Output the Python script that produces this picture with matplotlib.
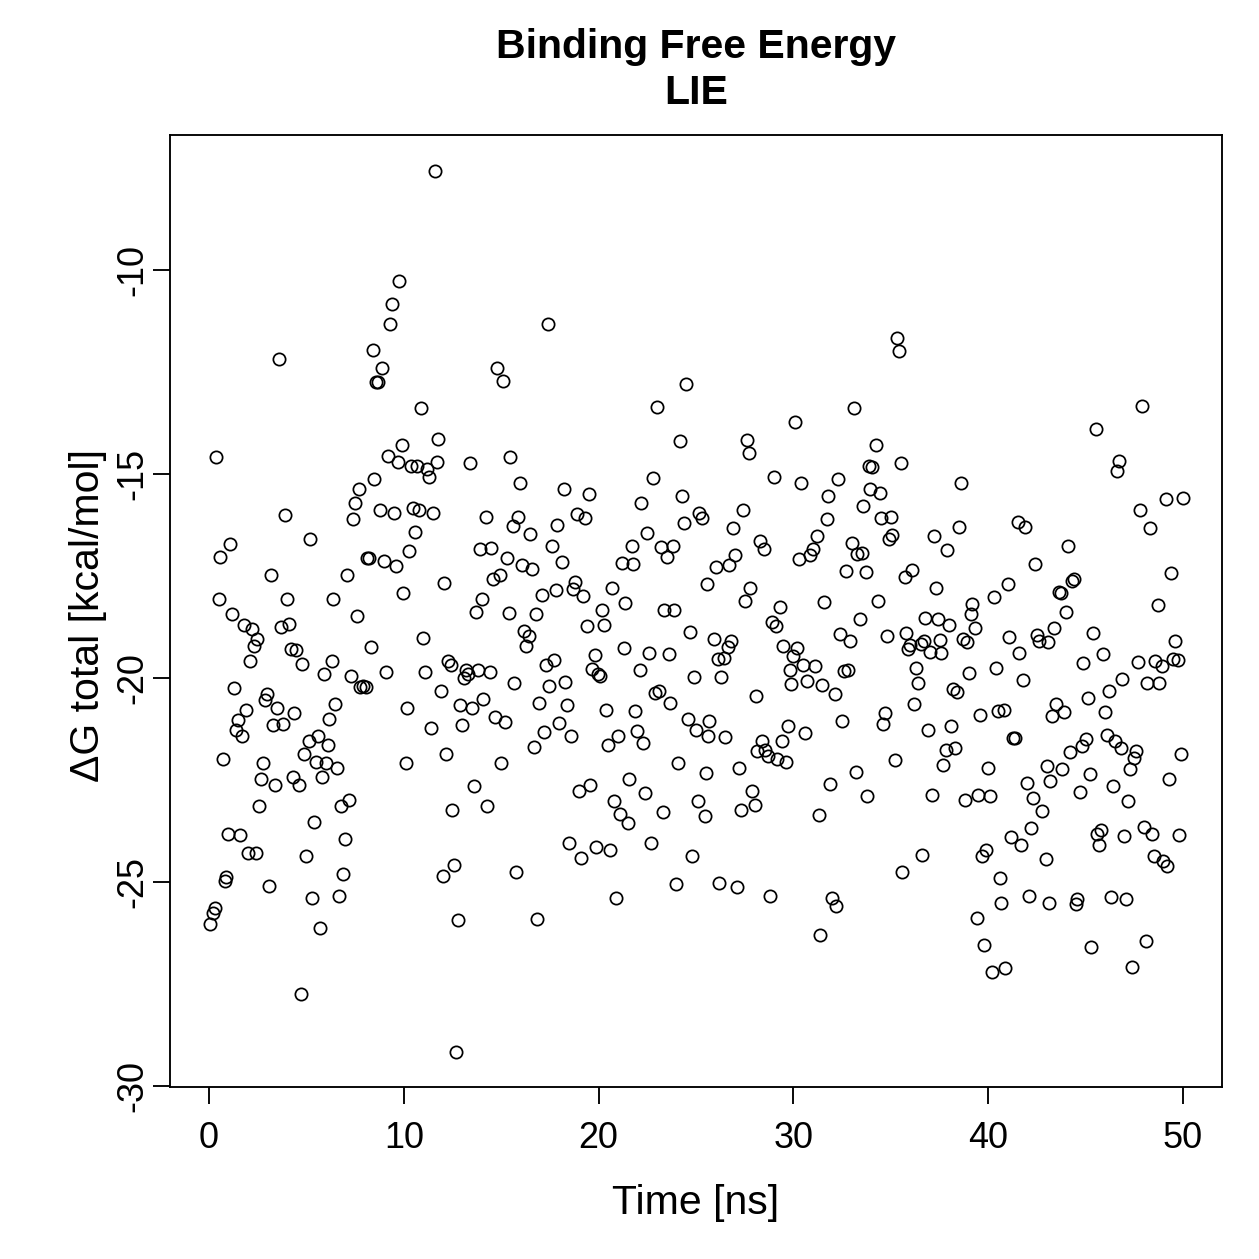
import matplotlib
matplotlib.use("Agg")
import matplotlib.pyplot as plt

plt.rcParams['font.family'] = ['Liberation Sans', 'DejaVu Sans']

time_ns = [
0.07,0.19,0.29,0.37,0.50,0.58,0.70,0.80,0.89,0.99,1.09,1.18,1.28,1.40,1.49,1.59,1.71,1.78,1.90,1.98,
2.09,2.20,2.29,2.39,2.49,2.58,2.68,2.78,2.88,2.99,3.07,3.19,3.28,3.38,3.48,3.60,3.69,3.79,3.89,4.00,
4.10,4.20,4.29,4.39,4.47,4.60,4.70,4.78,4.88,4.98,5.11,5.19,5.29,5.38,5.48,5.58,5.69,5.79,5.88,5.99,
6.10,6.18,6.29,6.39,6.49,6.59,6.68,6.78,6.88,6.97,7.08,7.19,7.27,7.39,7.49,7.58,7.70,7.76,7.89,8.04,
8.12,8.23,8.30,8.40,8.49,8.56,8.66,8.78,8.90,8.98,9.08,9.21,9.27,9.41,9.49,9.60,9.70,9.78,9.89,9.97,
10.09,10.18,10.28,10.35,10.49,10.60,10.69,10.79,10.88,11.00,11.08,11.18,11.31,11.39,11.51,11.59,11.70,11.78,11.89,11.99,
12.07,12.19,12.26,12.40,12.50,12.59,12.67,12.79,12.89,13.00,13.08,13.18,13.30,13.39,13.49,13.58,13.69,13.80,13.90,13.99,
14.09,14.21,14.28,14.41,14.50,14.58,14.69,14.79,14.92,14.97,15.08,15.18,15.30,15.38,15.47,15.59,15.68,15.78,15.88,15.98,
16.05,16.19,16.29,16.41,16.46,16.58,16.70,16.80,16.85,16.96,17.11,17.20,17.32,17.40,17.48,17.59,17.69,17.79,17.89,17.98,
18.10,18.20,18.30,18.39,18.48,18.60,18.68,18.80,18.89,18.99,19.09,19.20,19.31,19.38,19.50,19.58,19.67,19.79,19.89,19.96,
20.08,20.18,20.30,20.37,20.48,20.59,20.70,20.78,20.89,20.99,21.11,21.19,21.28,21.38,21.50,21.58,21.71,21.79,21.89,21.99,
22.10,22.20,22.28,22.40,22.49,22.61,22.69,22.78,22.90,22.99,23.12,23.21,23.29,23.38,23.50,23.60,23.68,23.81,23.89,23.99,
24.09,24.18,24.30,24.40,24.49,24.59,24.69,24.80,24.88,25.00,25.10,25.15,25.29,25.46,25.51,25.56,25.61,25.66,25.91,26.02,
26.11,26.19,26.30,26.42,26.49,26.62,26.67,26.78,26.88,27.01,27.08,27.19,27.29,27.39,27.51,27.60,27.70,27.78,27.90,28.01,
28.09,28.11,28.28,28.38,28.50,28.53,28.70,28.79,28.89,29.01,29.10,29.16,29.30,29.41,29.49,29.61,29.70,29.80,29.90,29.98,
30.09,30.19,30.29,30.39,30.50,30.60,30.69,30.84,31.01,31.11,31.20,31.30,31.39,31.49,31.59,31.70,31.80,31.88,32.00,32.11,
32.19,32.31,32.38,32.49,32.60,32.68,32.80,32.89,32.99,33.09,33.20,33.28,33.40,33.50,33.59,33.71,33.80,33.88,33.93,34.05,
34.22,34.36,34.43,34.48,34.59,34.70,34.78,34.90,34.99,35.08,35.19,35.30,35.40,35.50,35.59,35.72,35.79,35.88,36.01,36.10,
36.20,36.31,36.39,36.53,36.59,36.70,36.78,36.90,36.99,37.09,37.21,37.30,37.41,37.50,37.60,37.69,37.81,37.89,37.98,38.10,
38.18,38.32,38.41,38.49,38.59,38.69,38.80,38.92,38.99,39.12,39.19,39.31,39.40,39.50,39.60,39.69,39.80,39.89,39.99,40.11,
40.20,40.28,40.40,40.51,40.59,40.68,40.79,40.88,41.00,41.09,41.19,41.29,41.39,41.51,41.60,41.70,41.80,41.91,41.99,42.07,
42.20,42.30,42.40,42.50,42.62,42.78,42.98,43.03,43.07,43.13,43.19,43.27,43.39,43.49,43.65,43.73,43.79,43.90,43.99,44.09,
44.21,44.30,44.42,44.50,44.58,44.69,44.81,44.89,45.01,45.10,45.20,45.30,45.40,45.51,45.58,45.70,45.80,45.90,46.00,46.09,
46.21,46.31,46.40,46.52,46.60,46.71,46.82,46.89,46.98,47.09,47.20,47.30,47.40,47.50,47.58,47.69,47.81,47.90,47.99,48.10,
48.17,48.31,48.40,48.50,48.57,48.70,48.79,48.91,48.99,49.11,49.20,49.28,49.39,49.50,49.59,49.73,49.80,49.90,50.00,
]

dG_total = [
-26.04,-25.76,-25.64,-14.58,-18.06,-17.05,-21.99,-24.98,-24.89,-23.82,-16.72,-18.43,-20.25,-21.27,-21.04,-23.86,-21.43,-18.72,-20.78,-24.29,
-19.58,-18.80,-19.23,-24.30,-19.06,-23.14,-22.47,-22.08,-20.55,-20.40,-25.11,-17.48,-21.16,-22.64,-20.73,-12.18,-18.76,-21.13,-16.01,-18.06,
-18.68,-19.29,-22.43,-20.87,-19.31,-22.62,-27.76,-19.66,-21.86,-24.38,-21.54,-16.61,-25.39,-23.54,-22.07,-21.44,-26.13,-22.43,-19.92,-22.08,
-21.64,-21.02,-19.58,-18.06,-20.64,-22.21,-25.34,-23.14,-24.81,-23.96,-17.48,-22.99,-19.97,-16.12,-15.72,-18.49,-15.38,-20.22,-20.21,-20.22,
-17.06,-17.06,-19.25,-11.98,-15.12,-12.75,-12.75,-15.89,-12.40,-17.13,-19.85,-14.56,-11.34,-10.83,-15.96,-17.25,-14.71,-10.28,-14.29,-17.93,
-22.08,-20.74,-16.89,-14.82,-15.83,-16.43,-14.80,-15.89,-13.40,-19.03,-19.85,-14.88,-15.07,-21.23,-15.96,-7.57,-14.71,-14.15,-20.33,-24.85,
-17.69,-21.86,-19.59,-19.68,-23.24,-24.59,-29.17,-25.94,-20.67,-21.17,-20.00,-19.82,-19.90,-14.75,-20.75,-22.65,-18.39,-19.80,-16.84,-18.06,
-20.51,-16.06,-23.15,-19.86,-16.81,-17.57,-20.96,-12.42,-17.49,-22.10,-12.72,-21.08,-17.06,-18.42,-14.58,-16.28,-20.12,-24.75,-16.07,-15.22,
-17.23,-18.86,-19.23,-18.98,-16.47,-17.33,-21.69,-18.43,-25.91,-20.61,-17.97,-21.33,-19.70,-11.34,-20.21,-16.76,-19.56,-17.84,-16.25,-21.11,
-17.17,-15.38,-20.11,-20.66,-24.04,-21.42,-17.82,-17.66,-16.00,-22.77,-24.41,-18.00,-16.09,-18.74,-15.49,-22.62,-19.79,-19.44,-24.14,-19.90,
-19.96,-18.33,-18.72,-20.80,-21.65,-24.23,-17.80,-23.02,-25.41,-21.44,-23.35,-17.19,-19.27,-18.16,-23.56,-22.48,-16.76,-17.22,-20.81,-21.31,
-19.81,-15.71,-21.60,-22.83,-16.46,-19.39,-24.04,-15.10,-20.37,-13.36,-20.32,-16.80,-23.30,-18.33,-17.05,-19.41,-20.61,-16.78,-18.33,-25.06,
-22.09,-14.20,-15.55,-16.21,-12.81,-21.00,-18.89,-24.37,-19.98,-21.29,-23.02,-15.96,-16.09,-23.38,-22.34,-17.71,-21.43,-21.05,-19.04,-17.28,
-19.55,-25.02,-19.99,-19.52,-21.46,-19.25,-17.24,-19.10,-16.33,-16.99,-25.13,-22.21,-23.25,-15.89,-18.11,-14.18,-14.49,-17.79,-22.78,-23.12,
-20.44,-21.80,-16.64,-21.54,-16.84,-21.78,-21.91,-25.35,-18.63,-15.07,-18.73,-22.00,-18.26,-21.55,-19.22,-22.06,-21.18,-19.81,-20.16,-19.47,
-13.74,-19.26,-17.08,-15.23,-19.70,-21.35,-20.08,-16.99,-16.84,-19.72,-16.53,-23.36,-26.31,-20.17,-18.14,-16.10,-15.54,-22.60,-25.40,-20.41,
-25.60,-15.14,-18.92,-21.05,-19.83,-17.38,-19.82,-19.10,-16.70,-13.40,-22.30,-16.96,-18.56,-16.94,-15.79,-17.41,-22.91,-14.80,-15.37,-14.84,
-14.29,-18.12,-15.47,-16.09,-21.13,-20.86,-18.98,-16.59,-16.06,-16.51,-22.01,-11.68,-12.00,-14.74,-24.75,-17.53,-18.91,-19.30,-19.19,-17.35,
-20.64,-19.75,-20.14,-19.17,-24.35,-19.09,-18.53,-21.29,-19.36,-22.87,-16.53,-17.79,-18.57,-19.08,-19.39,-22.13,-21.76,-16.86,-18.71,-21.18,
-20.27,-21.72,-20.34,-16.30,-15.23,-19.06,-22.99,-19.13,-19.88,-18.45,-18.19,-18.79,-25.88,-22.88,-20.91,-24.37,-26.56,-24.21,-22.21,-22.91,
-27.20,-18.02,-19.75,-20.82,-24.91,-25.51,-20.78,-27.11,-17.70,-18.99,-23.91,-21.48,-21.48,-16.19,-19.39,-24.09,-20.06,-16.31,-22.57,-25.35,
-23.68,-22.95,-17.21,-18.96,-19.09,-23.26,-24.44,-22.16,-19.13,-25.51,-22.54,-20.94,-18.78,-20.64,-17.90,-17.92,-22.23,-20.83,-18.39,-16.76,
-21.82,-17.64,-17.59,-25.54,-25.42,-22.80,-21.67,-19.64,-21.51,-20.50,-22.35,-26.61,-18.90,-13.90,-23.83,-24.09,-23.74,-19.42,-20.85,-21.40,
-20.32,-25.38,-22.66,-21.55,-14.93,-14.68,-21.72,-20.02,-23.87,-25.42,-23.02,-22.23,-27.09,-21.97,-21.79,-19.62,-15.88,-13.35,-23.67,-26.46,
-20.12,-16.32,-23.83,-24.36,-19.59,-18.21,-20.14,-19.71,-24.49,-15.61,-24.61,-22.47,-17.44,-19.53,-19.09,-19.56,-23.85,-21.88,-15.60,
]

x_ticks = [0, 10, 20, 30, 40, 50]
y_ticks = [-30, -25, -20, -15, -10]
title_text = "Binding Free Energy\nLIE"
x_label = "Time [ns]"
y_label = "\u0394G total [kcal/mol]"

W = H = 1259
DPI = 180
fig = plt.figure(figsize=(W / DPI, H / DPI), dpi=DPI)
ax = fig.add_axes([170 / W, 1 - 1087 / H, (1222 - 170) / W, (1087 - 135) / H])

ax.plot(time_ns, dG_total, linestyle='none', marker='o', markersize=4.9,
        markerfacecolor='none', markeredgecolor='black', markeredgewidth=0.7)

ax.set_xlim(-2, 52)
ax.set_ylim(-30.03, -6.70)
ax.set_xticks(x_ticks)
ax.set_yticks(y_ticks)
ax.set_xticklabels([str(v) for v in x_ticks])
ax.set_yticklabels([str(v) for v in y_ticks], rotation=90, va='center')
ax.tick_params(axis='both', direction='out', length=6.8, width=0.75, labelsize=14.4,
               top=False, right=False)
ax.tick_params(axis='x', pad=7)
ax.tick_params(axis='y', pad=1)
for s in ax.spines.values():
    s.set_linewidth(0.75)

fig.text(0.5 * (170 + 1222) / W, 1 - 1203 / H, x_label, ha='center', va='center', fontsize=16.4)
fig.text(88 / W, 1 - 615 / H, y_label, ha='center', va='center', rotation=90, fontsize=16.4)
fig.text(0.5 * (170 + 1222) / W, 1 - 70 / H, title_text, ha='center', va='center',
         fontsize=16.4, fontweight='bold', linespacing=1.25)

fig.savefig("out.png", dpi=DPI)
